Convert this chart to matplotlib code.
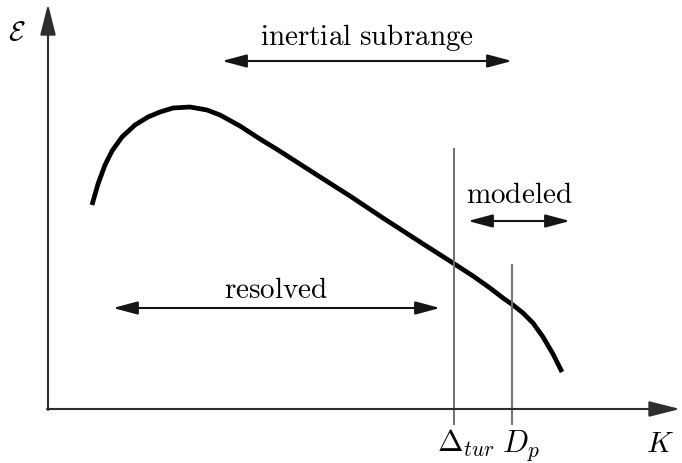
import matplotlib.pyplot as plt

plt.rcParams['mathtext.fontset'] = 'cm'

# Energy spectrum curve, in drawing units (x to the right, y downward)
curve_x = [92, 98, 105, 112, 122, 135, 148, 160, 173, 190, 207, 220, 240,
           260, 278, 317, 350, 383, 417, 453, 473, 490, 503, 513, 523, 533,
           543, 553, 562]
curve_y = [206, 185, 166, 152, 138, 126, 118, 113, 109, 108, 111, 116, 127,
           140, 151, 176, 197, 219, 241, 264, 277, 289, 299, 306, 314, 324,
           338, 355, 373]

# Filter / cut-off positions
cut_labels = [r'$\Delta_{tur}$', r'$D_p$']
cut_x = [454, 512]
cut_top = [150, 266]
cut_label_x = [437, 502]

# Range arrows: label, x start, x end, arrow y, label baseline
ranges = ['inertial subrange', 'resolved', 'modeled']
range_x0 = [222, 113, 468]
range_x1 = [512, 440, 570]
range_y = [62, 309, 222]
range_text_y = [45, 298, 203]

fig = plt.figure(figsize=(6.82, 4.64), dpi=100)
ax = fig.add_axes([0, 0, 1, 1])
ax.set_xlim(0, 682)
ax.set_ylim(464, 0)
ax.axis('off')

# axes with arrow heads
axis_col = '#2e2e2e'
head = '-|>,head_length=0.95,head_width=0.24'
ax.annotate('', xy=(48, 5), xytext=(48, 411),
            arrowprops=dict(arrowstyle=head, color=axis_col, lw=1.5,
                            mutation_scale=20, shrinkA=0, shrinkB=0))
ax.annotate('', xy=(680, 410), xytext=(47, 410),
            arrowprops=dict(arrowstyle=head, color=axis_col, lw=1.5,
                            mutation_scale=20, shrinkA=0, shrinkB=0))
ax.text(16.5, 40, r'$\mathcal{E}$', fontsize=20, ha='center', va='baseline')
ax.text(660, 452, r'$K$', fontsize=21, ha='center', va='baseline')

# spectrum
ax.plot(curve_x, curve_y, color='black', lw=3.4, solid_capstyle='butt',
        solid_joinstyle='round')

# cut-off lines and their labels
for lab, x, top, lx in zip(cut_labels, cut_x, cut_top, cut_label_x):
    ax.plot([x, x], [top, 425], color='#707070', lw=1.4)
    ax.text(lx, 452, lab, fontsize=22, ha='left', va='baseline')

# range arrows
both = '<|-|>,head_length=0.75,head_width=0.2'
for lab, x0, x1, y, ty in zip(ranges, range_x0, range_x1, range_y, range_text_y):
    ax.annotate('', xy=(x1, y), xytext=(x0, y),
                arrowprops=dict(arrowstyle=both, color='#151515', lw=1.5,
                                mutation_scale=20, shrinkA=0, shrinkB=0))
    ax.text((x0 + x1) / 2, ty, r'$\mathrm{' + lab.replace(' ', r'\ ') + '}$',
            fontsize=21, ha='center', va='baseline')

fig.savefig('out.png', dpi=100)
